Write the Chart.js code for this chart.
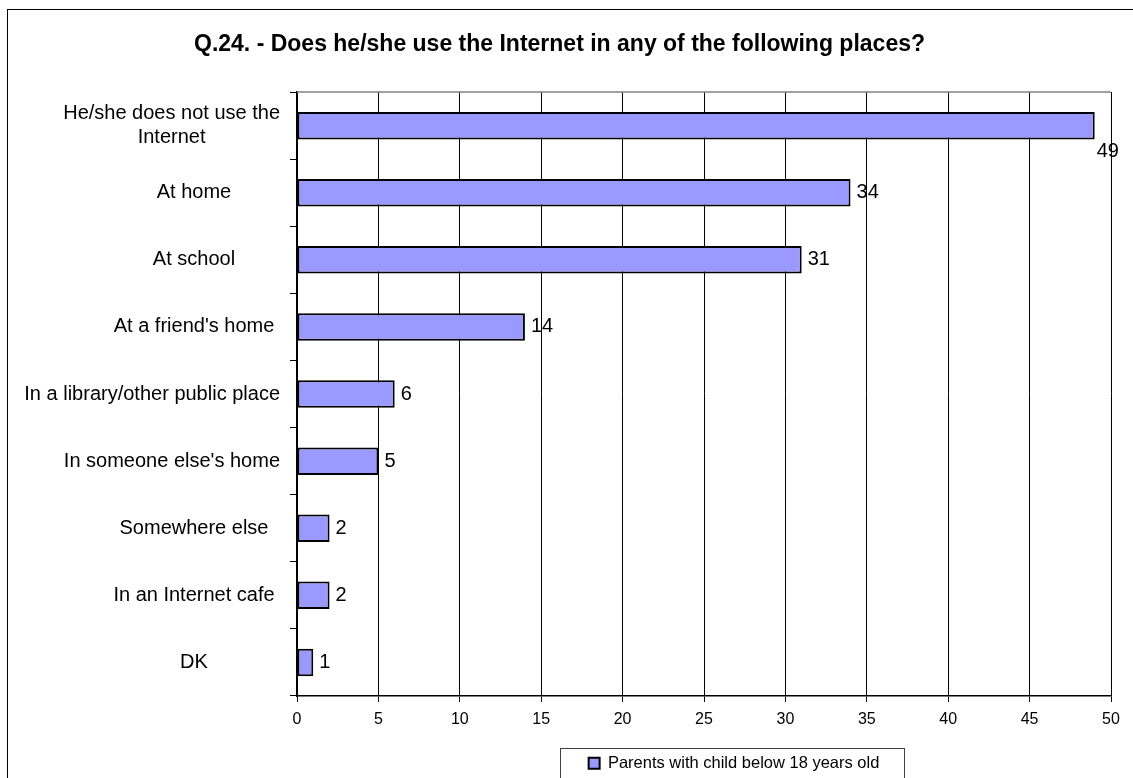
<!DOCTYPE html>
<html>
<head>
<meta charset="utf-8">
<title>Q.24 Internet use places</title>
<script src="https://cdn.jsdelivr.net/npm/chart.js@4.4.1/dist/chart.umd.min.js"></script>
<style>
    html, body { margin: 0; padding: 0; background: #fff; overflow: hidden; }
    #frame {
        position: absolute;
        left: 7px;
        top: 9px;
        width: 1128px;
        height: 775px;
        border: 1px solid #000;
        background: #fff;
    }
    #placesChart { display: block; }
</style>
</head>
<body>
<div id="frame">
    <canvas id="placesChart" width="1128" height="775"></canvas>
</div>
<script>
const chartTitle = 'Q.24. - Does he/she use the Internet in any of the following places?';
const seriesName = 'Parents with child below 18 years old';
const categories = [
    ['He/she does not use the', 'Internet'],
    'At home',
    'At school',
    "At a friend's home",
    'In a library/other public place',
    "In someone else's home",
    'Somewhere else',
    'In an Internet cafe',
    'DK'
];
const values = [49, 34, 31, 14, 6, 5, 2, 2, 1];
const xMin = 0;
const xMax = 50;
const xStep = 5;

document.addEventListener('DOMContentLoaded', function () {
    const fontFamily = 'Arial, "Liberation Sans", sans-serif';
    Chart.defaults.font.family = fontFamily;
    Chart.defaults.color = '#000';

    // category labels: centred in the label column like Excel, pushed left when too wide
    const categoryLabels = {
        id: 'categoryLabels',
        afterDraw(chart) {
            const ctx = chart.ctx;
            const yScale = chart.scales.y;
            const colCenter = 186;
            const rightLimit = yScale.right - 17;
            ctx.save();
            ctx.font = '20px ' + fontFamily;
            ctx.fillStyle = '#000';
            ctx.textAlign = 'center';
            ctx.textBaseline = 'middle';
            categories.forEach((label, i) => {
                const lines = Array.isArray(label) ? label : [label];
                const widest = Math.max(...lines.map(l => ctx.measureText(l).width));
                const cx = Math.min(colCenter, rightLimit - widest / 2);
                const y0 = yScale.getPixelForValue(i) - (lines.length - 1) * 12;
                lines.forEach((line, j) => ctx.fillText(line, cx, y0 + j * 24));
            });
            ctx.restore();
        }
    };

    // value labels at the end of each bar (the one that does not fit drops below the bar)
    const valueLabels = {
        id: 'valueLabels',
        afterDatasetsDraw(chart) {
            const ctx = chart.ctx;
            const area = chart.chartArea;
            const meta = chart.getDatasetMeta(0);
            ctx.save();
            ctx.font = '20px ' + fontFamily;
            ctx.fillStyle = '#000';
            ctx.textBaseline = 'middle';
            ctx.textAlign = 'left';
            meta.data.forEach((bar, i) => {
                const text = String(values[i]);
                const w = ctx.measureText(text).width;
                let x = bar.x + 6;
                let y = bar.y;
                if (x + w > area.right) {
                    x = bar.x + 2;
                    y = bar.y + bar.height / 2 + 12;
                }
                ctx.fillText(text, x, y);
            });
            ctx.restore();
        }
    };

    // plot top border + framed legend placed like the original
    const frameBits = {
        id: 'frameBits',
        afterLayout(chart) {
            chart.legend.left += 30;
            chart.legend.right += 30;
        },
        beforeDatasetsDraw(chart) {
            const ctx = chart.ctx;
            const area = chart.chartArea;
            ctx.save();
            ctx.strokeStyle = '#808080';
            ctx.lineWidth = 1.5;
            ctx.beginPath();
            ctx.moveTo(area.left, area.top);
            ctx.lineTo(area.right, area.top);
            ctx.stroke();
            ctx.restore();
        },
        afterDraw(chart) {
            const box = chart.legend.legendHitBoxes[0];
            if (!box) return;
            const ctx = chart.ctx;
            ctx.save();
            ctx.strokeStyle = '#404040';
            ctx.lineWidth = 1;
            const midY = box.top + box.height / 2;
            ctx.strokeRect(Math.round(box.left - 29) + 0.5, Math.round(midY - 15) + 0.5, Math.round(box.width + 53), 40);
            ctx.restore();
        }
    };

    const ctx = document.getElementById('placesChart').getContext('2d');
    new Chart(ctx, {
        type: 'bar',
        data: {
            labels: categories,
            datasets: [{
                label: seriesName,
                data: values,
                backgroundColor: '#9999FF',
                borderColor: '#000',
                borderWidth: 2,
                borderSkipped: false,
                barPercentage: 0.41,
                categoryPercentage: 1
            }]
        },
        options: {
            indexAxis: 'y',
            responsive: false,
            animation: false,
            layout: {
                padding: { left: 0, right: 25, top: 0, bottom: 3.5 }
            },
            plugins: {
                title: {
                    display: true,
                    text: chartTitle,
                    color: '#000',
                    font: { size: 23, weight: 'bold' },
                    padding: { top: 21, bottom: 33.5 }
                },
                legend: {
                    position: 'bottom',
                    fullSize: false,
                    labels: {
                        boxWidth: 11,
                        boxHeight: 11,
                        padding: 19,
                        color: '#000',
                        font: { size: 16.5 }
                    }
                },
                tooltip: { enabled: false }
            },
            scales: {
                x: {
                    type: 'linear',
                    min: xMin,
                    max: xMax,
                    ticks: {
                        stepSize: xStep,
                        padding: 8,
                        color: '#000',
                        font: { size: 16 }
                    },
                    grid: {
                        color: '#000',
                        lineWidth: 1,
                        tickColor: '#000',
                        tickLength: 6
                    },
                    border: { color: '#000', width: 1.5 },
                    afterFit: scale => { scale.height = 40; }
                },
                y: {
                    type: 'category',
                    offset: true,
                    ticks: {
                        display: false,
                        autoSkip: false
                    },
                    grid: {
                        offset: true,
                        drawOnChartArea: false,
                        color: '#000',
                        tickColor: '#000',
                        tickLength: 7
                    },
                    border: { color: '#000', width: 1.5 },
                    afterFit: scale => { scale.width = 289; }
                }
            }
        },
        plugins: [categoryLabels, valueLabels, frameBits]
    });
});
</script>
</body>
</html>
